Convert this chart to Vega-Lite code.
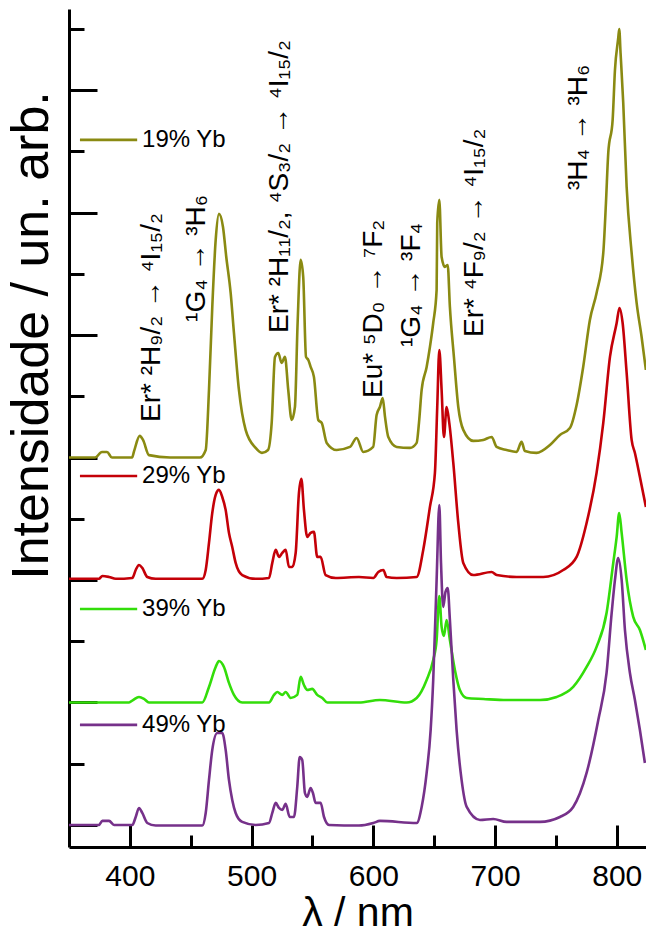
{
  "$schema": "https://vega.github.io/schema/vega-lite/v6.json",
  "width": 577,
  "height": 838,
  "autosize": "none",
  "padding": {"left": 69, "top": 9, "right": 0, "bottom": 87},
  "background": "white",
  "config": {
    "view": {"stroke": null},
    "font": "Liberation Sans",
    "axis": {"labelFont": "Liberation Sans", "titleFont": "Liberation Sans"},
    "text": {"font": "Liberation Sans"}
  },
  "datasets": {
    "spectra": [
      {"s":"19% Yb","x":350,"y":4.0},{"s":"19% Yb","x":371.4,"y":4.0},{"s":"19% Yb","x":377.1,"y":4.046},{"s":"19% Yb","x":381.2,"y":4.046},{"s":"19% Yb","x":385.3,"y":4.0},{"s":"19% Yb","x":401.8,"y":4.0},{"s":"19% Yb","x":403.4,"y":4.05},{"s":"19% Yb","x":408.1,"y":4.177},{"s":"19% Yb","x":410.8,"y":4.144},{"s":"19% Yb","x":415.7,"y":4.02},{"s":"19% Yb","x":433,"y":4.0},{"s":"19% Yb","x":457.6,"y":4.0},{"s":"19% Yb","x":462.3,"y":4.062},{"s":"19% Yb","x":465,"y":4.552},{"s":"19% Yb","x":467.7,"y":5.23},{"s":"19% Yb","x":470.5,"y":5.777},{"s":"19% Yb","x":473.2,"y":5.99},{"s":"19% Yb","x":476.5,"y":5.883},{"s":"19% Yb","x":479.2,"y":5.638},{"s":"19% Yb","x":482.8,"y":5.344},{"s":"19% Yb","x":485.5,"y":5.018},{"s":"19% Yb","x":489.6,"y":4.552},{"s":"19% Yb","x":495.1,"y":4.226},{"s":"19% Yb","x":503.3,"y":4.079},{"s":"19% Yb","x":508.5,"y":4.038},{"s":"19% Yb","x":513.5,"y":4.062},{"s":"19% Yb","x":516.5,"y":4.283},{"s":"19% Yb","x":519.2,"y":4.822},{"s":"19% Yb","x":521.9,"y":4.854},{"s":"19% Yb","x":524.7,"y":4.773},{"s":"19% Yb","x":527.4,"y":4.822},{"s":"19% Yb","x":530.1,"y":4.552},{"s":"19% Yb","x":532.9,"y":4.307},{"s":"19% Yb","x":535.6,"y":4.413},{"s":"19% Yb","x":537.8,"y":5.099},{"s":"19% Yb","x":540.3,"y":5.614},{"s":"19% Yb","x":542.4,"y":5.475},{"s":"19% Yb","x":544.7,"y":4.822},{"s":"19% Yb","x":546.6,"y":4.797},{"s":"19% Yb","x":548.5,"y":4.74},{"s":"19% Yb","x":551.2,"y":4.659},{"s":"19% Yb","x":554.8,"y":4.307},{"s":"19% Yb","x":557.6,"y":4.283},{"s":"19% Yb","x":561.7,"y":4.12},{"s":"19% Yb","x":569.9,"y":4.062},{"s":"19% Yb","x":580.8,"y":4.087},{"s":"19% Yb","x":586.3,"y":4.16},{"s":"19% Yb","x":591.7,"y":4.046},{"s":"19% Yb","x":599.9,"y":4.087},{"s":"19% Yb","x":602.7,"y":4.348},{"s":"19% Yb","x":605.4,"y":4.413},{"s":"19% Yb","x":607.7,"y":4.487},{"s":"19% Yb","x":609.6,"y":4.332},{"s":"19% Yb","x":612.3,"y":4.168},{"s":"19% Yb","x":619.2,"y":4.087},{"s":"19% Yb","x":630.1,"y":4.079},{"s":"19% Yb","x":635.6,"y":4.12},{"s":"19% Yb","x":637.5,"y":4.283},{"s":"19% Yb","x":639.7,"y":4.552},{"s":"19% Yb","x":643.8,"y":4.74},{"s":"19% Yb","x":646.5,"y":4.903},{"s":"19% Yb","x":649.2,"y":5.099},{"s":"19% Yb","x":652,"y":5.369},{"s":"19% Yb","x":652.5,"y":5.916},{"s":"19% Yb","x":654.2,"y":6.104},{"s":"19% Yb","x":656.1,"y":5.638},{"s":"19% Yb","x":658.8,"y":5.557},{"s":"19% Yb","x":661.1,"y":5.573},{"s":"19% Yb","x":662.9,"y":5.23},{"s":"19% Yb","x":666.2,"y":4.822},{"s":"19% Yb","x":669.8,"y":4.413},{"s":"19% Yb","x":673.9,"y":4.226},{"s":"19% Yb","x":682.1,"y":4.136},{"s":"19% Yb","x":690.3,"y":4.144},{"s":"19% Yb","x":697.2,"y":4.168},{"s":"19% Yb","x":701.3,"y":4.087},{"s":"19% Yb","x":709.5,"y":4.062},{"s":"19% Yb","x":717.7,"y":4.046},{"s":"19% Yb","x":721.8,"y":4.128},{"s":"19% Yb","x":724.5,"y":4.054},{"s":"19% Yb","x":734.1,"y":4.038},{"s":"19% Yb","x":745.1,"y":4.103},{"s":"19% Yb","x":753.3,"y":4.185},{"s":"19% Yb","x":761.5,"y":4.242},{"s":"19% Yb","x":767,"y":4.43},{"s":"19% Yb","x":772.4,"y":4.74},{"s":"19% Yb","x":777.9,"y":5.124},{"s":"19% Yb","x":783.4,"y":5.344},{"s":"19% Yb","x":788.9,"y":5.671},{"s":"19% Yb","x":791.1,"y":6.079},{"s":"19% Yb","x":793,"y":6.488},{"s":"19% Yb","x":796.6,"y":6.757},{"s":"19% Yb","x":798.5,"y":7.165},{"s":"19% Yb","x":801.2,"y":7.427},{"s":"19% Yb","x":802,"y":7.5},{"s":"19% Yb","x":803.1,"y":7.304},{"s":"19% Yb","x":805.3,"y":6.896},{"s":"19% Yb","x":808.1,"y":6.21},{"s":"19% Yb","x":812.2,"y":5.671},{"s":"19% Yb","x":816.3,"y":5.263},{"s":"19% Yb","x":820.4,"y":4.985},{"s":"19% Yb","x":823.9,"y":4.716},

      {"s":"29% Yb","x":350,"y":3.01},{"s":"29% Yb","x":374.6,"y":3.01},{"s":"29% Yb","x":377.4,"y":3.033},{"s":"29% Yb","x":382.9,"y":3.025},{"s":"29% Yb","x":388.4,"y":3.01},{"s":"29% Yb","x":402,"y":3.017},{"s":"29% Yb","x":404.8,"y":3.082},{"s":"29% Yb","x":407.5,"y":3.123},{"s":"29% Yb","x":410.2,"y":3.099},{"s":"29% Yb","x":414.3,"y":3.025},{"s":"29% Yb","x":421.2,"y":3.01},{"s":"29% Yb","x":459.5,"y":3.01},{"s":"29% Yb","x":462.3,"y":3.082},{"s":"29% Yb","x":465,"y":3.303},{"s":"29% Yb","x":467.7,"y":3.548},{"s":"29% Yb","x":470.5,"y":3.695},{"s":"29% Yb","x":473.2,"y":3.736},{"s":"29% Yb","x":475.9,"y":3.678},{"s":"29% Yb","x":478.7,"y":3.572},{"s":"29% Yb","x":481.4,"y":3.385},{"s":"29% Yb","x":484.1,"y":3.27},{"s":"29% Yb","x":486.9,"y":3.14},{"s":"29% Yb","x":492.3,"y":3.041},{"s":"29% Yb","x":503.3,"y":3.01},{"s":"29% Yb","x":514.3,"y":3.017},{"s":"29% Yb","x":517,"y":3.14},{"s":"29% Yb","x":519.8,"y":3.246},{"s":"29% Yb","x":522.5,"y":3.189},{"s":"29% Yb","x":525.2,"y":3.221},{"s":"29% Yb","x":528,"y":3.246},{"s":"29% Yb","x":530.7,"y":3.107},{"s":"29% Yb","x":533.4,"y":3.107},{"s":"29% Yb","x":536.2,"y":3.221},{"s":"29% Yb","x":538.9,"y":3.711},{"s":"29% Yb","x":540.9,"y":3.826},{"s":"29% Yb","x":543,"y":3.572},{"s":"29% Yb","x":545.7,"y":3.352},{"s":"29% Yb","x":548.5,"y":3.385},{"s":"29% Yb","x":551.2,"y":3.393},{"s":"29% Yb","x":553.9,"y":3.189},{"s":"29% Yb","x":556.7,"y":3.189},{"s":"29% Yb","x":560.8,"y":3.041},{"s":"29% Yb","x":569.1,"y":3.017},{"s":"29% Yb","x":588.2,"y":3.025},{"s":"29% Yb","x":600,"y":3.017},{"s":"29% Yb","x":604.1,"y":3.066},{"s":"29% Yb","x":608.2,"y":3.082},{"s":"29% Yb","x":610.9,"y":3.025},{"s":"29% Yb","x":619.2,"y":3.017},{"s":"29% Yb","x":635.6,"y":3.025},{"s":"29% Yb","x":641,"y":3.246},{"s":"29% Yb","x":646.5,"y":3.597},{"s":"29% Yb","x":650.6,"y":3.875},{"s":"29% Yb","x":652.5,"y":4.413},{"s":"29% Yb","x":654.2,"y":4.879},{"s":"29% Yb","x":656.1,"y":4.552},{"s":"29% Yb","x":658,"y":4.168},{"s":"29% Yb","x":660.2,"y":4.413},{"s":"29% Yb","x":662.4,"y":4.283},{"s":"29% Yb","x":665.7,"y":3.956},{"s":"29% Yb","x":669.8,"y":3.466},{"s":"29% Yb","x":673.9,"y":3.14},{"s":"29% Yb","x":682.1,"y":3.041},{"s":"29% Yb","x":697.2,"y":3.066},{"s":"29% Yb","x":701.3,"y":3.041},{"s":"29% Yb","x":717.7,"y":3.025},{"s":"29% Yb","x":739.6,"y":3.025},{"s":"29% Yb","x":756,"y":3.082},{"s":"29% Yb","x":767,"y":3.189},{"s":"29% Yb","x":775.2,"y":3.466},{"s":"29% Yb","x":783.4,"y":3.875},{"s":"29% Yb","x":788.9,"y":4.283},{"s":"29% Yb","x":794.4,"y":4.822},{"s":"29% Yb","x":799.9,"y":5.099},{"s":"29% Yb","x":802.2,"y":5.222},{"s":"29% Yb","x":804.8,"y":5.099},{"s":"29% Yb","x":808.1,"y":4.691},{"s":"29% Yb","x":812.2,"y":4.144},{"s":"29% Yb","x":814.9,"y":4.038},{"s":"29% Yb","x":819,"y":3.842},{"s":"29% Yb","x":823.9,"y":3.597},

      {"s":"39% Yb","x":350,"y":2.0},{"s":"39% Yb","x":399.3,"y":2.0},{"s":"39% Yb","x":402.6,"y":2.02},{"s":"39% Yb","x":407.5,"y":2.045},{"s":"39% Yb","x":411.6,"y":2.03},{"s":"39% Yb","x":415.7,"y":2.0},{"s":"39% Yb","x":459.5,"y":2.0},{"s":"39% Yb","x":465,"y":2.127},{"s":"39% Yb","x":470.5,"y":2.29},{"s":"39% Yb","x":473.2,"y":2.339},{"s":"39% Yb","x":477.3,"y":2.29},{"s":"39% Yb","x":481.4,"y":2.16},{"s":"39% Yb","x":485.5,"y":2.062},{"s":"39% Yb","x":492.3,"y":2.0},{"s":"39% Yb","x":514.3,"y":2.0},{"s":"39% Yb","x":518.4,"y":2.062},{"s":"39% Yb","x":521.1,"y":2.086},{"s":"39% Yb","x":525.2,"y":2.062},{"s":"39% Yb","x":528,"y":2.086},{"s":"39% Yb","x":532.1,"y":2.037},{"s":"39% Yb","x":537.5,"y":2.062},{"s":"39% Yb","x":540.3,"y":2.209},{"s":"39% Yb","x":543,"y":2.143},{"s":"39% Yb","x":545.7,"y":2.103},{"s":"39% Yb","x":549.8,"y":2.111},{"s":"39% Yb","x":553.9,"y":2.062},{"s":"39% Yb","x":558.1,"y":2.037},{"s":"39% Yb","x":562.2,"y":2.0},{"s":"39% Yb","x":588.2,"y":2.0},{"s":"39% Yb","x":605.4,"y":2.02},{"s":"39% Yb","x":627.4,"y":2.0},{"s":"39% Yb","x":635.6,"y":2.037},{"s":"39% Yb","x":643.8,"y":2.184},{"s":"39% Yb","x":649.2,"y":2.347},{"s":"39% Yb","x":652,"y":2.511},{"s":"39% Yb","x":654.2,"y":2.87},{"s":"39% Yb","x":656.1,"y":2.617},{"s":"39% Yb","x":658,"y":2.543},{"s":"39% Yb","x":660.2,"y":2.674},{"s":"39% Yb","x":662.9,"y":2.511},{"s":"39% Yb","x":667,"y":2.266},{"s":"39% Yb","x":671.1,"y":2.102},{"s":"39% Yb","x":676.7,"y":2.037},{"s":"39% Yb","x":690.3,"y":2.029},{"s":"39% Yb","x":709.5,"y":2.02},{"s":"39% Yb","x":736.9,"y":2.02},{"s":"39% Yb","x":750.6,"y":2.045},{"s":"39% Yb","x":764.2,"y":2.127},{"s":"39% Yb","x":775.2,"y":2.29},{"s":"39% Yb","x":783.4,"y":2.454},{"s":"39% Yb","x":791.6,"y":2.731},{"s":"39% Yb","x":797.1,"y":3.139},{"s":"39% Yb","x":799.9,"y":3.352},{"s":"39% Yb","x":802,"y":3.548},{"s":"39% Yb","x":804,"y":3.385},{"s":"39% Yb","x":808.1,"y":3.001},{"s":"39% Yb","x":813.5,"y":2.699},{"s":"39% Yb","x":819,"y":2.592},{"s":"39% Yb","x":823.9,"y":2.429},

      {"s":"49% Yb","x":350,"y":1.0},{"s":"49% Yb","x":374.6,"y":1.0},{"s":"49% Yb","x":377.4,"y":1.033},{"s":"49% Yb","x":382.9,"y":1.033},{"s":"49% Yb","x":387,"y":1.0},{"s":"49% Yb","x":402,"y":1.0},{"s":"49% Yb","x":404.8,"y":1.065},{"s":"49% Yb","x":407.5,"y":1.139},{"s":"49% Yb","x":410.2,"y":1.098},{"s":"49% Yb","x":414.3,"y":1.016},{"s":"49% Yb","x":421.2,"y":0.995},{"s":"49% Yb","x":459.5,"y":0.995},{"s":"49% Yb","x":462.3,"y":1.098},{"s":"49% Yb","x":465,"y":1.368},{"s":"49% Yb","x":467.7,"y":1.613},{"s":"49% Yb","x":471.8,"y":1.751},{"s":"49% Yb","x":475.9,"y":1.751},{"s":"49% Yb","x":478.7,"y":1.613},{"s":"49% Yb","x":481.4,"y":1.368},{"s":"49% Yb","x":484.1,"y":1.204},{"s":"49% Yb","x":486.9,"y":1.098},{"s":"49% Yb","x":492.3,"y":1.025},{"s":"49% Yb","x":503.3,"y":1.0},{"s":"49% Yb","x":514.3,"y":1.016},{"s":"49% Yb","x":517,"y":1.098},{"s":"49% Yb","x":519.8,"y":1.18},{"s":"49% Yb","x":522.5,"y":1.139},{"s":"49% Yb","x":525.2,"y":1.123},{"s":"49% Yb","x":528,"y":1.172},{"s":"49% Yb","x":531.3,"y":1.065},{"s":"49% Yb","x":534.8,"y":1.065},{"s":"49% Yb","x":537.5,"y":1.31},{"s":"49% Yb","x":539.5,"y":1.555},{"s":"49% Yb","x":541.6,"y":1.531},{"s":"49% Yb","x":543.8,"y":1.261},{"s":"49% Yb","x":545.7,"y":1.229},{"s":"49% Yb","x":548.5,"y":1.302},{"s":"49% Yb","x":550.4,"y":1.261},{"s":"49% Yb","x":552.6,"y":1.18},{"s":"49% Yb","x":556.7,"y":1.18},{"s":"49% Yb","x":559.5,"y":1.065},{"s":"49% Yb","x":563.6,"y":1.0},{"s":"49% Yb","x":588.2,"y":0.995},{"s":"49% Yb","x":600,"y":1.016},{"s":"49% Yb","x":605.4,"y":1.033},{"s":"49% Yb","x":635.6,"y":1.016},{"s":"49% Yb","x":639.7,"y":1.147},{"s":"49% Yb","x":643.8,"y":1.425},{"s":"49% Yb","x":647.1,"y":1.776},{"s":"49% Yb","x":649.2,"y":2.184},{"s":"49% Yb","x":652,"y":3.001},{"s":"49% Yb","x":654.2,"y":3.613},{"s":"49% Yb","x":655.6,"y":3.14},{"s":"49% Yb","x":657.4,"y":2.78},{"s":"49% Yb","x":659.3,"y":2.903},{"s":"49% Yb","x":661.1,"y":2.935},{"s":"49% Yb","x":662.9,"y":2.674},{"s":"49% Yb","x":665.7,"y":2.184},{"s":"49% Yb","x":668.4,"y":1.776},{"s":"49% Yb","x":672.5,"y":1.368},{"s":"49% Yb","x":676.7,"y":1.147},{"s":"49% Yb","x":687.6,"y":1.041},{"s":"49% Yb","x":698.5,"y":1.049},{"s":"49% Yb","x":709.5,"y":1.025},{"s":"49% Yb","x":736.9,"y":1.025},{"s":"49% Yb","x":753.3,"y":1.065},{"s":"49% Yb","x":764.2,"y":1.147},{"s":"49% Yb","x":775.2,"y":1.425},{"s":"49% Yb","x":784.8,"y":1.857},{"s":"49% Yb","x":791.6,"y":2.241},{"s":"49% Yb","x":795.8,"y":2.731},{"s":"49% Yb","x":798.5,"y":3.001},{"s":"49% Yb","x":801.2,"y":3.18},{"s":"49% Yb","x":804,"y":3.001},{"s":"49% Yb","x":806.7,"y":2.592},{"s":"49% Yb","x":810.8,"y":2.241},{"s":"49% Yb","x":814.9,"y":2.021},{"s":"49% Yb","x":819,"y":1.776},{"s":"49% Yb","x":823.1,"y":1.506}
    ],
    "legend": [
      {"s":"19% Yb","x1":359,"x2":406,"tx":410,"y":6.594},
      {"s":"29% Yb","x1":359,"x2":406,"tx":410,"y":3.85},
      {"s":"39% Yb","x1":359,"x2":406,"tx":410,"y":2.764},
      {"s":"49% Yb","x1":359,"x2":406,"tx":410,"y":1.817}
    ],
    "notes": [
      {"t":"Er* ²H₉/₂ → ⁴I₁₅/₂","x":424.8,"y":4.291},
      {"t":"¹G₄ → ³H₆","x":461.7,"y":5.108},
      {"t":"Er* ²H₁₁/₂, ⁴S₃/₂ → ⁴I₁₅/₂","x":529.9,"y":5.018},
      {"t":"Eu* ⁵D₀ → ⁷F₂","x":607.1,"y":4.487},
      {"t":"¹G₄ → ³F₄","x":638.3,"y":4.903},
      {"t":"Er* ⁴F₉/₂ → ⁴I₁₅/₂","x":690.0,"y":4.985},
      {"t":"³H₄ → ³H₆","x":775.5,"y":6.185}
    ]
  },
  "layer": [
    {
      "data": {"name": "spectra"},
      "mark": {"type": "line", "strokeWidth": 2.6, "clip": true, "interpolate": "monotone"},
      "encoding": {
        "x": {
          "field": "x", "type": "quantitative",
          "scale": {"domain": [350, 824], "nice": false, "zero": false},
          "axis": {
            "values": [400, 450, 500, 550, 600, 650, 700, 750, 800],
            "labelExpr": "datum.value % 100 === 0 ? datum.label : ''",
            "tickSize": {"condition": {"test": "datum.value % 100 === 0", "value": -22}, "value": -12},
            "tickWidth": 3, "tickColor": "black",
            "domainColor": "black", "domainWidth": 3,
            "grid": false,
            "labelFontSize": 30, "labelColor": "black", "labelPadding": 36,
            "title": "λ / nm", "titleFontSize": 41, "titleFontWeight": "normal", "titleColor": "black",
            "titleBaseline": "alphabetic", "titleY": 78
          }
        },
        "y": {
          "field": "y", "type": "quantitative",
          "scale": {"domain": [0.82, 7.663], "nice": false, "zero": false},
          "axis": {
            "values": [1, 1.5, 2, 2.5, 3, 3.5, 4, 4.5, 5, 5.5, 6, 6.5, 7, 7.5],
            "labels": false,
            "tickSize": {"condition": {"test": "datum.value % 1 === 0", "value": -28}, "value": -15},
            "tickWidth": 3, "tickColor": "black",
            "domainColor": "black", "domainWidth": 3,
            "grid": false,
            "title": "Intensidade / un. arb.", "titleFontSize": 52, "titleFontWeight": "normal", "titleColor": "black",
            "titleBaseline": "alphabetic", "titleAngle": 270, "titleX": -22, "titleY": 326, "titleAlign": "center"
          }
        },
        "color": {
          "field": "s", "type": "nominal",
          "scale": {"domain": ["19% Yb", "29% Yb", "39% Yb", "49% Yb"], "range": ["#8a8a12", "#c40008", "#33dd0a", "#76318a"]},
          "legend": null
        }
      }
    },
    {
      "mark": {"type": "rule", "strokeWidth": 3, "color": "black"},
      "encoding": {"y": {"datum": 7.663, "type": "quantitative", "scale": {"domain": [0.82, 7.663], "nice": false, "zero": false}}}
    },
    {
      "data": {"name": "legend"},
      "mark": {"type": "rule", "strokeWidth": 2.6},
      "encoding": {
        "x": {"field": "x1", "type": "quantitative", "scale": {"domain": [350, 824], "nice": false, "zero": false}},
        "x2": {"field": "x2"},
        "y": {"field": "y", "type": "quantitative", "scale": {"domain": [0.82, 7.663], "nice": false, "zero": false}},
        "color": {"field": "s", "type": "nominal", "scale": {"domain": ["19% Yb", "29% Yb", "39% Yb", "49% Yb"], "range": ["#8a8a12", "#c40008", "#33dd0a", "#76318a"]}, "legend": null}
      }
    },
    {
      "data": {"name": "legend"},
      "mark": {"type": "text", "align": "left", "baseline": "middle", "fontSize": 24, "color": "black"},
      "encoding": {
        "x": {"field": "tx", "type": "quantitative", "scale": {"domain": [350, 824], "nice": false, "zero": false}},
        "y": {"field": "y", "type": "quantitative", "scale": {"domain": [0.82, 7.663], "nice": false, "zero": false}},
        "text": {"field": "s"}
      }
    },
    {
      "data": {"name": "notes"},
      "mark": {"type": "text", "align": "left", "baseline": "alphabetic", "angle": 270, "fontSize": 28, "color": "black"},
      "encoding": {
        "x": {"field": "x", "type": "quantitative", "scale": {"domain": [350, 824], "nice": false, "zero": false}},
        "y": {"field": "y", "type": "quantitative", "scale": {"domain": [0.82, 7.663], "nice": false, "zero": false}},
        "text": {"field": "t"}
      }
    }
  ]
}
